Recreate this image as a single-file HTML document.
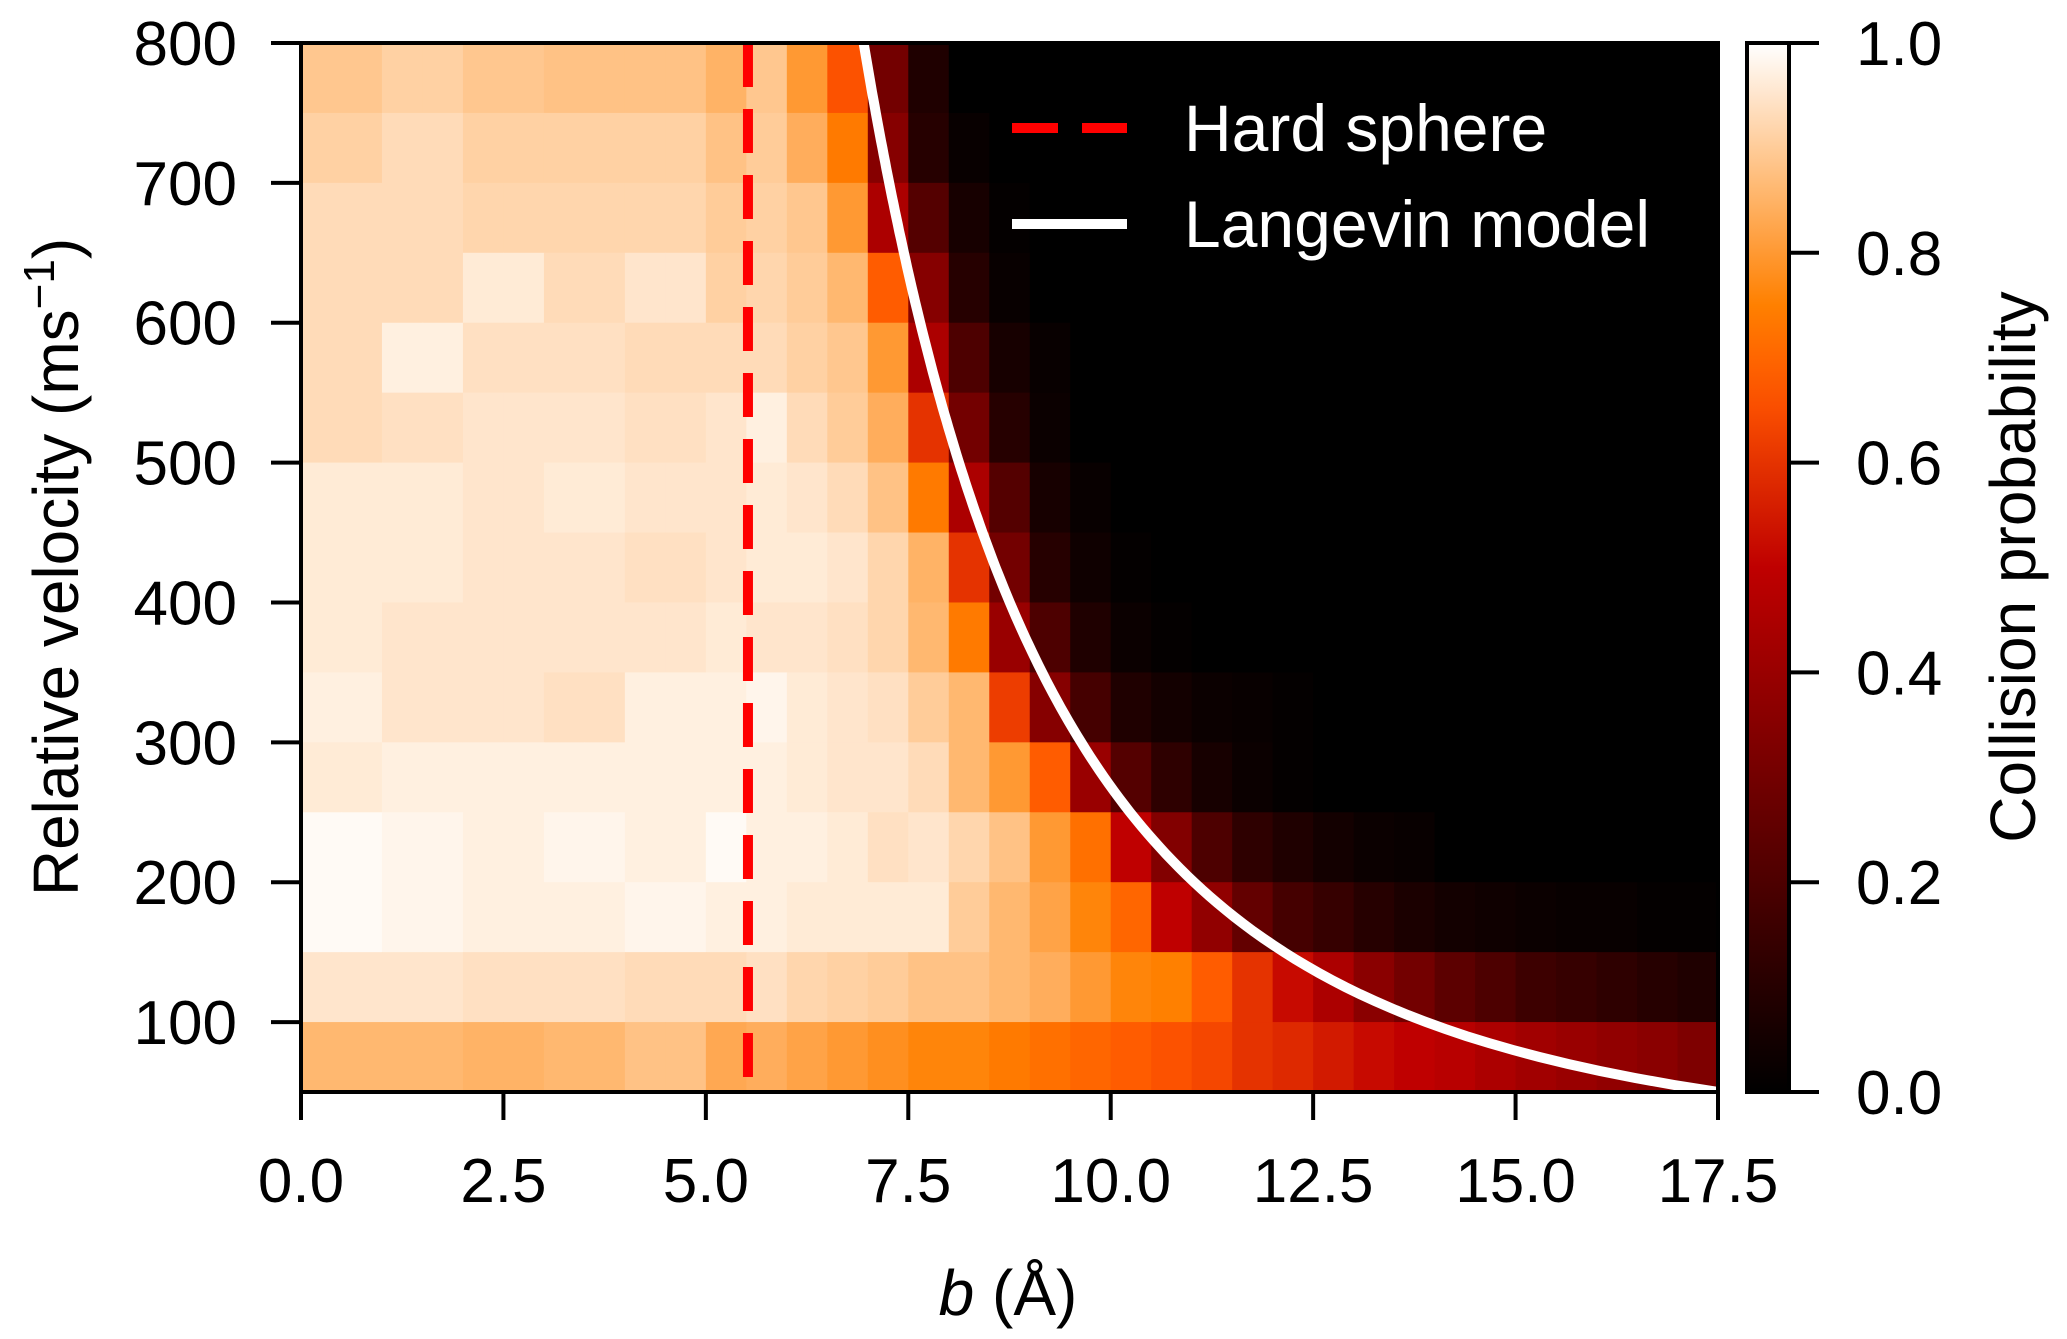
<!DOCTYPE html>
<html><head><meta charset="utf-8"><style>
body{margin:0;background:#fff}
svg{display:block;font-family:"Liberation Sans",sans-serif}
</style></head><body>
<svg id="chart" width="2067" height="1339" viewBox="0 0 2067 1339">
<g id="cells"></g>
<g id="lines"></g>
<g id="axes"></g>
</svg>
<script>
const bEdges = [0,17.5];
const vRange = [50,800];
const rowCenters = [775,725,675,625,575,525,475,425,375,325,275,225,175,125,75];
const probRows = [
[.89,.89,.91,.91,.89,.89,.88,.88,.88,.88,.85,.89,.8,.66,.3,.08],
[.91,.91,.93,.93,.91,.91,.91,.91,.91,.91,.88,.9,.84,.74,.35,.1,.02],
[.93,.93,.93,.93,.92,.92,.92,.92,.92,.92,.9,.91,.89,.8,.45,.22,.06,.01],
[.93,.93,.93,.93,.96,.96,.93,.93,.95,.95,.91,.92,.9,.86,.68,.35,.1,.02],
[.93,.93,.97,.97,.94,.94,.94,.94,.93,.93,.93,.93,.91,.89,.8,.45,.2,.06,.02],
[.93,.93,.94,.94,.95,.95,.95,.95,.94,.94,.95,.97,.93,.9,.84,.6,.3,.1,.03],
[.96,.96,.96,.96,.95,.95,.96,.96,.95,.95,.95,.96,.95,.93,.88,.74,.45,.22,.06,.02],
[.96,.96,.96,.96,.95,.95,.95,.95,.94,.94,.95,.96,.96,.95,.92,.85,.6,.3,.1,.04,.01],
[.96,.96,.95,.95,.95,.95,.95,.95,.95,.95,.96,.95,.95,.94,.92,.86,.74,.4,.2,.08,.03,.01],
[.97,.97,.95,.95,.95,.95,.94,.94,.97,.97,.97,.98,.96,.95,.94,.9,.86,.62,.35,.18,.08,.05,.03,.02,.01],
[.96,.96,.97,.97,.97,.97,.97,.97,.97,.97,.97,.97,.96,.95,.95,.93,.86,.8,.68,.4,.22,.12,.06,.03,.01],
[.99,.99,.98,.98,.97,.97,.98,.98,.97,.97,.99,.97,.97,.96,.94,.95,.92,.88,.8,.72,.5,.34,.2,.12,.08,.05,.03,.02],
[.99,.99,.98,.98,.97,.97,.97,.97,.98,.98,.97,.97,.96,.96,.96,.96,.9,.86,.82,.76,.7,.5,.38,.26,.18,.14,.1,.07,.05,.04,.03,.02,.02,.01,.01],
[.95,.95,.95,.95,.94,.94,.94,.94,.93,.93,.93,.94,.92,.91,.9,.88,.88,.86,.84,.8,.76,.75,.68,.6,.52,.45,.36,.3,.24,.2,.16,.14,.12,.1,.08],
[.86,.86,.86,.86,.85,.85,.86,.86,.88,.88,.83,.84,.82,.8,.78,.76,.76,.74,.72,.7,.68,.66,.64,.6,.58,.55,.52,.5,.48,.45,.42,.4,.38,.36,.33]
];
const xTicks = [0,2.5,5,7.5,10,12.5,15,17.5];
const xTickLabels = ["0.0","2.5","5.0","7.5","10.0","12.5","15.0","17.5"];
const yTicks = [100,200,300,400,500,600,700,800];
const cbTicks = [0,0.2,0.4,0.6,0.8,1.0];
const cbTickLabels = ["0.0","0.2","0.4","0.6","0.8","1.0"];
const hardSphereB = [5.52];
const langevinC = [64.5];

const NS="http://www.w3.org/2000/svg";
const L=301,R=1718,T=43,B=1092;
const xs=b=>L+(b-bEdges[0])/(bEdges[1]-bEdges[0])*(R-L);
const ys=v=>B-(v-vRange[0])/(vRange[1]-vRange[0])*(B-T);
function cmap(x){x=Math.max(0,Math.min(1,x));const r=Math.min(1,1.5*x),g=Math.max(0,2*x-1),b=Math.max(0,4*x-3);return `rgb(${Math.round(r*255)},${Math.round(g*255)},${Math.round(b*255)})`;}
function mk(tag,attrs,parent){const e=document.createElementNS(NS,tag);for(const k in attrs)e.setAttribute(k,attrs[k]);parent.appendChild(e);return e;}
const cells=document.getElementById('cells'),lines=document.getElementById('lines'),axes=document.getElementById('axes');
const colW=0.5;
mk('rect',{x:L,y:T,width:R-L,height:B-T,fill:'#000'},cells);
rowCenters.forEach((v,ri)=>{
  for(let ci=0;ci<35;ci++){
    const p=probRows[ri][ci]||0;
    const c=mk('rect',{x:xs(ci*colW),y:ys(v+25),width:xs(colW)-xs(0)+0.6,height:ys(v-25)-ys(v+25)+0.6,fill:cmap(p)},cells);
    
    
  }
});
const hs=mk('line',{x1:xs(hardSphereB[0]),x2:xs(hardSphereB[0]),y1:T,y2:B,stroke:'#ff0000','stroke-width':10,'stroke-dasharray':'44,22'},lines);


let d='';
for(let v=800;v>=50;v-=5){const b=langevinC[0]*Math.pow(v,-1/3);d+=(d?'L':'M')+xs(Math.min(b,17.5)).toFixed(1)+','+ys(v).toFixed(1);}
const cp=mk('clipPath',{id:'pc'},lines);mk('rect',{x:L,y:T,width:R-L,height:B-T},cp);
const lg=mk('path',{d:d,fill:'none',stroke:'#fff','stroke-width':10,'clip-path':'url(#pc)'},lines);


const l1=mk('line',{x1:1012,x2:1127,y1:128,y2:128,stroke:'#ff0000','stroke-width':10,'stroke-dasharray':'46,24'},lines);


const t1=mk('text',{x:1184,y:151,fill:'#fff','font-size':66},lines);t1.textContent='Hard sphere';


const l2=mk('line',{x1:1012,x2:1127,y1:224,y2:224,stroke:'#fff','stroke-width':10},lines);


const t2=mk('text',{x:1184,y:247,fill:'#fff','font-size':66},lines);t2.textContent='Langevin model';


const fr=mk('rect',{x:L,y:T,width:R-L,height:B-T,fill:'none',stroke:'#000','stroke-width':4},axes);


xTicks.forEach((t,i)=>{
  mk('line',{x1:xs(t),x2:xs(t),y1:B,y2:B+28,stroke:'#000','stroke-width':4},axes);
  const tx=mk('text',{x:xs(t),y:B+110,'text-anchor':'middle','font-size':62},axes);tx.textContent=xTickLabels[i];
  
  
});
yTicks.forEach(t=>{
  mk('line',{x1:L-30,x2:L,y1:ys(t),y2:ys(t),stroke:'#000','stroke-width':4},axes);
  const tx=mk('text',{x:L-64,y:ys(t)+22,'text-anchor':'end','font-size':62},axes);tx.textContent=t;
  
  
});
const xl=mk('text',{x:1008,y:1315,'text-anchor':'middle','font-size':64},axes);
xl.innerHTML='<tspan font-style="italic">b</tspan> (Å)';


const yl=mk('text',{x:0,y:0,'text-anchor':'middle','font-size':64,transform:'translate(78,567) rotate(-90)'},axes);
yl.innerHTML='Relative velocity (ms<tspan dy="-24" font-size="44">−1</tspan><tspan dy="24">)</tspan>';


const cbL=1747,cbR=1789;
const defs=mk('defs',{},axes);
const gr=mk('linearGradient',{id:'cbg',x1:0,y1:1,x2:0,y2:0},defs);
for(let i=0;i<=20;i++)mk('stop',{offset:i/20,'stop-color':cmap(i/20)},gr);
const cb=mk('rect',{x:cbL,y:T,width:cbR-cbL,height:B-T,fill:'url(#cbg)',stroke:'#000','stroke-width':4},axes);


const cy=p=>B-p*(B-T);
cbTicks.forEach((t,i)=>{
  mk('line',{x1:cbR,x2:cbR+30,y1:cy(t),y2:cy(t),stroke:'#000','stroke-width':4},axes);
  const tx=mk('text',{x:1856,y:cy(t)+22,'font-size':62},axes);tx.textContent=cbTickLabels[i];
  
  
});
const cl=mk('text',{x:0,y:0,'text-anchor':'middle','font-size':64,transform:'translate(2035,567) rotate(-90)'},axes);
cl.textContent='Collision probability';


</script>
</body></html>
